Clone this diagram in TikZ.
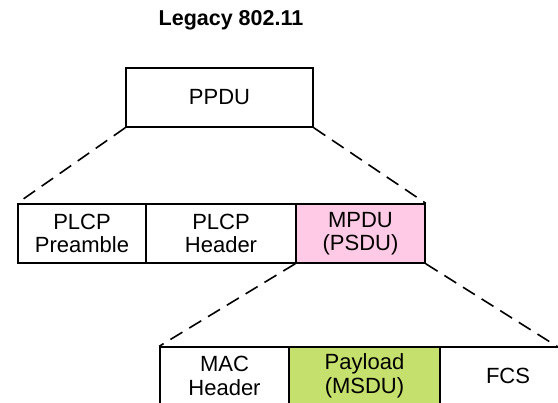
\documentclass[tikz,border=0pt]{standalone}
\usepackage{fontspec}
\setmainfont{Liberation Sans}
\definecolor{mpdupink}{HTML}{FFCAE6}
\definecolor{payloadgreen}{HTML}{C5E06C}
\begin{document}
\begin{tikzpicture}[x=1pt,y=-1pt,
  field/.style={draw=black, line width=1.5pt, rectangle, inner sep=0pt,
    align=center, font=\fontsize{22}{23.5}\selectfont},
  split/.style={draw=black, line width=1.6pt, dash pattern=on 14pt off 8pt}]
  \useasboundingbox (0,0) rectangle (558,403);
  \clip (0,0) rectangle (558,403);
  \fill[white] (0,0) rectangle (558,403);

  % title
  \node[font=\fontsize{21.5}{24}\selectfont\bfseries] (title) at (231,20) {Legacy 802.11};

  % PHY frame
  \node[field, minimum width=187pt, minimum height=59pt] (ppdu) at (219.5,97.5) {PPDU};

  % PLCP fields and MPDU
  \node[field, minimum width=128pt, minimum height=59pt] (preamble) at (82,233.5) {PLCP\\Preamble};
  \node[field, minimum width=150pt, minimum height=59pt] (plcphdr) at (221,233.5) {PLCP\\Header};
  \node[field, fill=mpdupink, minimum width=129pt, minimum height=59pt] (mpdu) at (360.5,233.5) {MPDU\\(PSDU)};

  % MAC frame
  \node[field, minimum width=129pt, minimum height=58pt] (machdr) at (224.5,376) {MAC\\Header};
  \node[field, fill=payloadgreen, minimum width=151pt, minimum height=58pt] (payload) at (364.5,376) {Payload\\(MSDU)};
  \node[field, minimum width=136pt, minimum height=58pt] (fcs) at (508,376) {FCS};

  % expansion lines
  \draw[split] (ppdu.south west) -- (preamble.north west);
  \draw[split] (ppdu.south east) -- (mpdu.north east);
  \draw[split] (mpdu.south west) -- (machdr.north west);
  \coordinate (fcsedge) at (558,347);
  \draw[split] (mpdu.south east) -- (fcsedge);
\end{tikzpicture}
\end{document}
